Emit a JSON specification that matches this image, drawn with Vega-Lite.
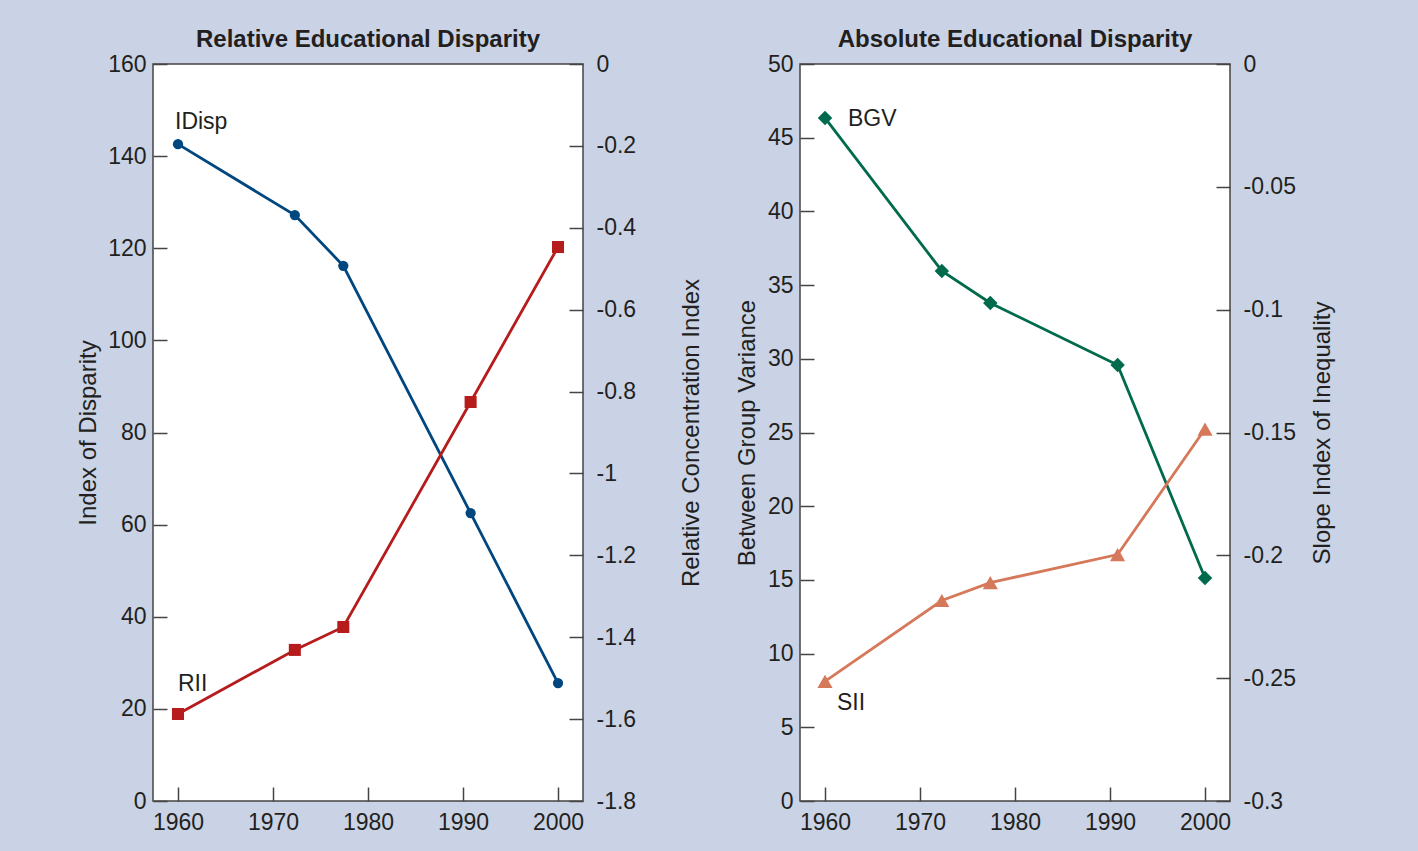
{
  "$schema": "https://vega.github.io/schema/vega-lite/v6.json",
  "background": "#c9d3e5",
  "padding": {"left": 75, "top": 27, "right": 91, "bottom": 20},
  "config": {
    "font": "Liberation Sans",
    "view": {"fill": "white", "stroke": "#444444", "strokeWidth": 1.5},
    "axis": {"grid": false, "domain": false, "tickColor": "#444444", "tickWidth": 1.5, "tickSize": -14,
      "labelFont": "Liberation Sans", "labelFontSize": 23, "labelColor": "#231f20",
      "titleFont": "Liberation Sans", "titleFontSize": 24, "titleFontWeight": "normal", "titleColor": "#231f20"},
    "title": {"font": "Liberation Sans", "fontSize": 24, "fontWeight": "bold", "color": "#231f20", "anchor": "middle", "offset": 1}
  },
  "datasets": {
    "d": [
      {"series": "IDisp", "year": 1960, "value": 142.6},
      {"series": "IDisp", "year": 1972.3, "value": 127.2},
      {"series": "IDisp", "year": 1977.4, "value": 116.2},
      {"series": "IDisp", "year": 1990.8, "value": 62.5},
      {"series": "IDisp", "year": 2000, "value": 25.6},
      {"series": "RII", "year": 1960, "value": -1.5875},
      {"series": "RII", "year": 1972.3, "value": -1.431},
      {"series": "RII", "year": 1977.4, "value": -1.375},
      {"series": "RII", "year": 1990.8, "value": -0.8255},
      {"series": "RII", "year": 2000, "value": -0.447},
      {"series": "BGV", "year": 1960, "value": 46.34},
      {"series": "BGV", "year": 1972.3, "value": 35.96},
      {"series": "BGV", "year": 1977.4, "value": 33.79},
      {"series": "BGV", "year": 1990.8, "value": 29.58},
      {"series": "BGV", "year": 2000, "value": 15.13},
      {"series": "SII", "year": 1960, "value": -0.2513},
      {"series": "SII", "year": 1972.3, "value": -0.2184},
      {"series": "SII", "year": 1977.4, "value": -0.2111},
      {"series": "SII", "year": 1990.8, "value": -0.1997},
      {"series": "SII", "year": 2000, "value": -0.1486}
    ]
  },
  "spacing": 217,
  "bounds": "flush",
  "hconcat": [
    {
      "title": "Relative Educational Disparity",
      "width": 430,
      "height": 737,
      "data": {"name": "d"},
      "layer": [
        {
          "transform": [{"filter": "datum.series == 'IDisp'"}],
          "encoding": {
            "x": {"field": "year", "type": "quantitative", "scale": {"domain": [1957.37, 2002.63], "nice": false, "zero": false},
              "axis": {"title": null, "values": [1960, 1970, 1980, 1990, 2000], "format": "d", "labelPadding": 24}},
            "y": {"field": "value", "type": "quantitative", "scale": {"domain": [0, 160], "nice": false},
              "axis": {"orient": "left", "title": "Index of Disparity", "values": [0, 20, 40, 60, 80, 100, 120, 140, 160], "labelPadding": 21, "titlePadding": 7}}
          },
          "layer": [
            {"mark": {"type": "line", "color": "#00467f", "strokeWidth": 2.8}},
            {"mark": {"type": "point", "shape": "circle", "filled": true, "size": 105, "color": "#00467f", "opacity": 1}},
            {"transform": [{"filter": "datum.year == 1960"}],
              "mark": {"type": "text", "align": "left", "baseline": "middle", "dx": -3, "dy": -22, "fontSize": 23, "color": "#231f20"},
              "encoding": {"text": {"field": "series"}}}
          ]
        },
        {
          "transform": [{"filter": "datum.series == 'RII'"}],
          "encoding": {
            "x": {"field": "year", "type": "quantitative", "scale": {"domain": [1957.37, 2002.63], "nice": false, "zero": false},
              "axis": {"title": null, "values": [1960, 1970, 1980, 1990, 2000], "format": "d", "labelPadding": 24}},
            "y": {"field": "value", "type": "quantitative", "scale": {"domain": [-1.8, 0], "nice": false, "zero": false},
              "axis": {"orient": "right", "title": "Relative Concentration Index", "titleAngle": 270, "values": [0, -0.2, -0.4, -0.6, -0.8, -1, -1.2, -1.4, -1.6, -1.8],
                "labelExpr": "'' + datum.value", "labelPadding": 27, "titlePadding": 68}}
          },
          "layer": [
            {"mark": {"type": "line", "color": "#b71c1c", "strokeWidth": 2.8}},
            {"mark": {"type": "point", "shape": "square", "filled": true, "size": 145, "color": "#b71c1c", "opacity": 1}},
            {"transform": [{"filter": "datum.year == 1960"}],
              "mark": {"type": "text", "align": "left", "baseline": "middle", "dx": 0, "dy": -30, "fontSize": 23, "color": "#231f20"},
              "encoding": {"text": {"field": "series"}}}
          ]
        }
      ],
      "resolve": {"scale": {"y": "independent"}}
    },
    {
      "title": "Absolute Educational Disparity",
      "width": 430,
      "height": 737,
      "data": {"name": "d"},
      "layer": [
        {
          "transform": [{"filter": "datum.series == 'BGV'"}],
          "encoding": {
            "x": {"field": "year", "type": "quantitative", "scale": {"domain": [1957.37, 2002.63], "nice": false, "zero": false},
              "axis": {"title": null, "values": [1960, 1970, 1980, 1990, 2000], "format": "d", "labelPadding": 24}},
            "y": {"field": "value", "type": "quantitative", "scale": {"domain": [0, 50], "nice": false},
              "axis": {"orient": "left", "title": "Between Group Variance", "values": [0, 5, 10, 15, 20, 25, 30, 35, 40, 45, 50], "labelPadding": 21, "titlePadding": 8}}
          },
          "layer": [
            {"mark": {"type": "line", "color": "#006b4c", "strokeWidth": 2.8}},
            {"mark": {"type": "point", "shape": "diamond", "filled": true, "size": 210, "color": "#006b4c", "opacity": 1}},
            {"transform": [{"filter": "datum.year == 1960"}],
              "mark": {"type": "text", "align": "left", "baseline": "middle", "dx": 23, "dy": 1, "fontSize": 23, "color": "#231f20"},
              "encoding": {"text": {"field": "series"}}}
          ]
        },
        {
          "transform": [{"filter": "datum.series == 'SII'"}],
          "encoding": {
            "x": {"field": "year", "type": "quantitative", "scale": {"domain": [1957.37, 2002.63], "nice": false, "zero": false},
              "axis": {"title": null, "values": [1960, 1970, 1980, 1990, 2000], "format": "d", "labelPadding": 24}},
            "y": {"field": "value", "type": "quantitative", "scale": {"domain": [-0.3, 0], "nice": false, "zero": false},
              "axis": {"orient": "right", "title": "Slope Index of Inequality", "titleAngle": 270, "values": [0, -0.05, -0.1, -0.15, -0.2, -0.25, -0.3],
                "labelExpr": "'' + datum.value", "labelPadding": 27, "titlePadding": 39}}
          },
          "layer": [
            {"mark": {"type": "line", "color": "#d6785a", "strokeWidth": 2.8}},
            {"mark": {"type": "point", "shape": "triangle-up", "filled": true, "size": 230, "color": "#d6785a", "opacity": 1}},
            {"transform": [{"filter": "datum.year == 1960"}],
              "mark": {"type": "text", "align": "left", "baseline": "middle", "dx": 12, "dy": 22, "fontSize": 23, "color": "#231f20"},
              "encoding": {"text": {"field": "series"}}}
          ]
        }
      ],
      "resolve": {"scale": {"y": "independent"}}
    }
  ]
}
